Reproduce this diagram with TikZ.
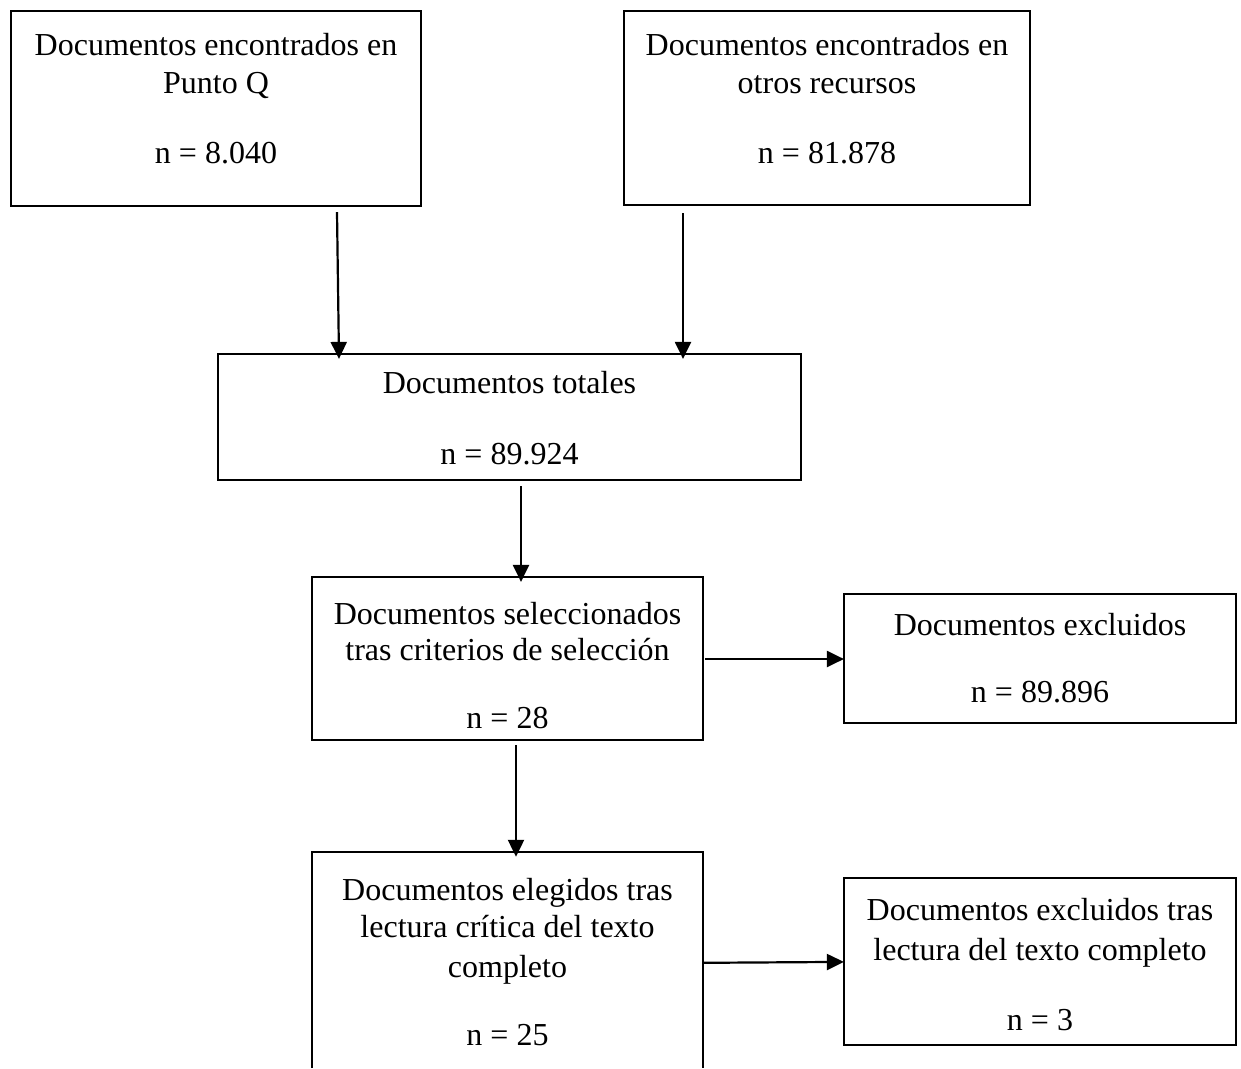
\documentclass[tikz,border=0pt]{standalone}
\usepackage{fontspec}
\setmainfont{Liberation Serif}
\usetikzlibrary{arrows.meta,calc}
\begin{document}
\begin{tikzpicture}[x=1pt,y=-1pt,
  box/.style={draw, line width=2.2pt, inner sep=0pt, rectangle},
  openbox/.style={inner sep=0pt, rectangle},
  txt/.style={anchor=base, inner sep=0pt, font=\fontsize{32}{38}\selectfont},
  arr/.style={line width=2.2pt, -{Triangle[length=17pt,width=16pt]}}]
\useasboundingbox (0,0) rectangle (1241,1068);
% boxes
\node[box, minimum width=410pt, minimum height=195pt] (A) at (216,108.5) {};
\node[box, minimum width=406pt, minimum height=194pt] (B) at (827,108) {};
\node[box, minimum width=583pt, minimum height=126pt] (C) at (509.5,417) {};
\node[box, minimum width=391pt, minimum height=163pt] (D) at (507.5,658.5) {};
\node[box, minimum width=392pt, minimum height=129pt] (E) at (1040,658.5) {};
\node[openbox, minimum width=391pt, minimum height=216pt] (F) at (507.5,960) {};
\node[box, minimum width=392pt, minimum height=167pt] (G) at (1040,961.5) {};
\draw[line width=2.2pt] (F.south west) -- (F.north west) -- (F.north east) -- (F.south east);
% texts
\node[txt] (A1) at (216,55) {Documentos encontrados en};
\node[txt] (A2) at (216,93) {Punto Q};
\node[txt] (A3) at (216,163) {n = 8.040};
\node[txt] (B1) at (827,55) {Documentos encontrados en};
\node[txt] (B2) at (827,93) {otros recursos};
\node[txt] (B3) at (827,163) {n = 81.878};
\node[txt] (C1) at (509.5,393) {Documentos totales};
\node[txt] (C2) at (509.5,464) {n = 89.924};
\node[txt] (D1) at (507.5,624) {Documentos seleccionados};
\node[txt] (D2) at (507.5,660) {tras criterios de selección};
\node[txt] (D3) at (507.5,728) {n = 28};
\node[txt] (E1) at (1040,635) {Documentos excluidos};
\node[txt] (E2) at (1040,702) {n = 89.896};
\node[txt] (F1) at (507.5,900) {Documentos elegidos tras};
\node[txt] (F2) at (507.5,937) {lectura crítica del texto};
\node[txt] (F3) at (507.5,977) {completo};
\node[txt] (F4) at (507.5,1045) {n = 25};
\node[txt] (G1) at (1040,920) {Documentos excluidos tras};
\node[txt] (G2) at (1040,960) {lectura del texto completo};
\node[txt] (G3) at (1040,1030) {n = 3};
% connectors
\draw[arr] ($(A.south)+(121,5)$) -- ($(C.north)+(-170.5,6)$);
\draw[arr] ($(B.south)+(-144,7)$) -- ($(C.north)+(173.5,6)$);
\draw[arr] ($(C.south)+(11.5,5)$) -- ($(D.north)+(13.5,6)$);
\draw[arr] ($(D.east)+(1,0.5)$) -- ($(E.west)+(1,0.5)$);
\draw[arr] ($(D.south)+(8.5,4)$) -- ($(F.north)+(8.5,5)$);
\draw[arr] ($(F.north east)+(1,111)$) -- ($(G.north west)+(1,85)$);
\end{tikzpicture}
\end{document}
